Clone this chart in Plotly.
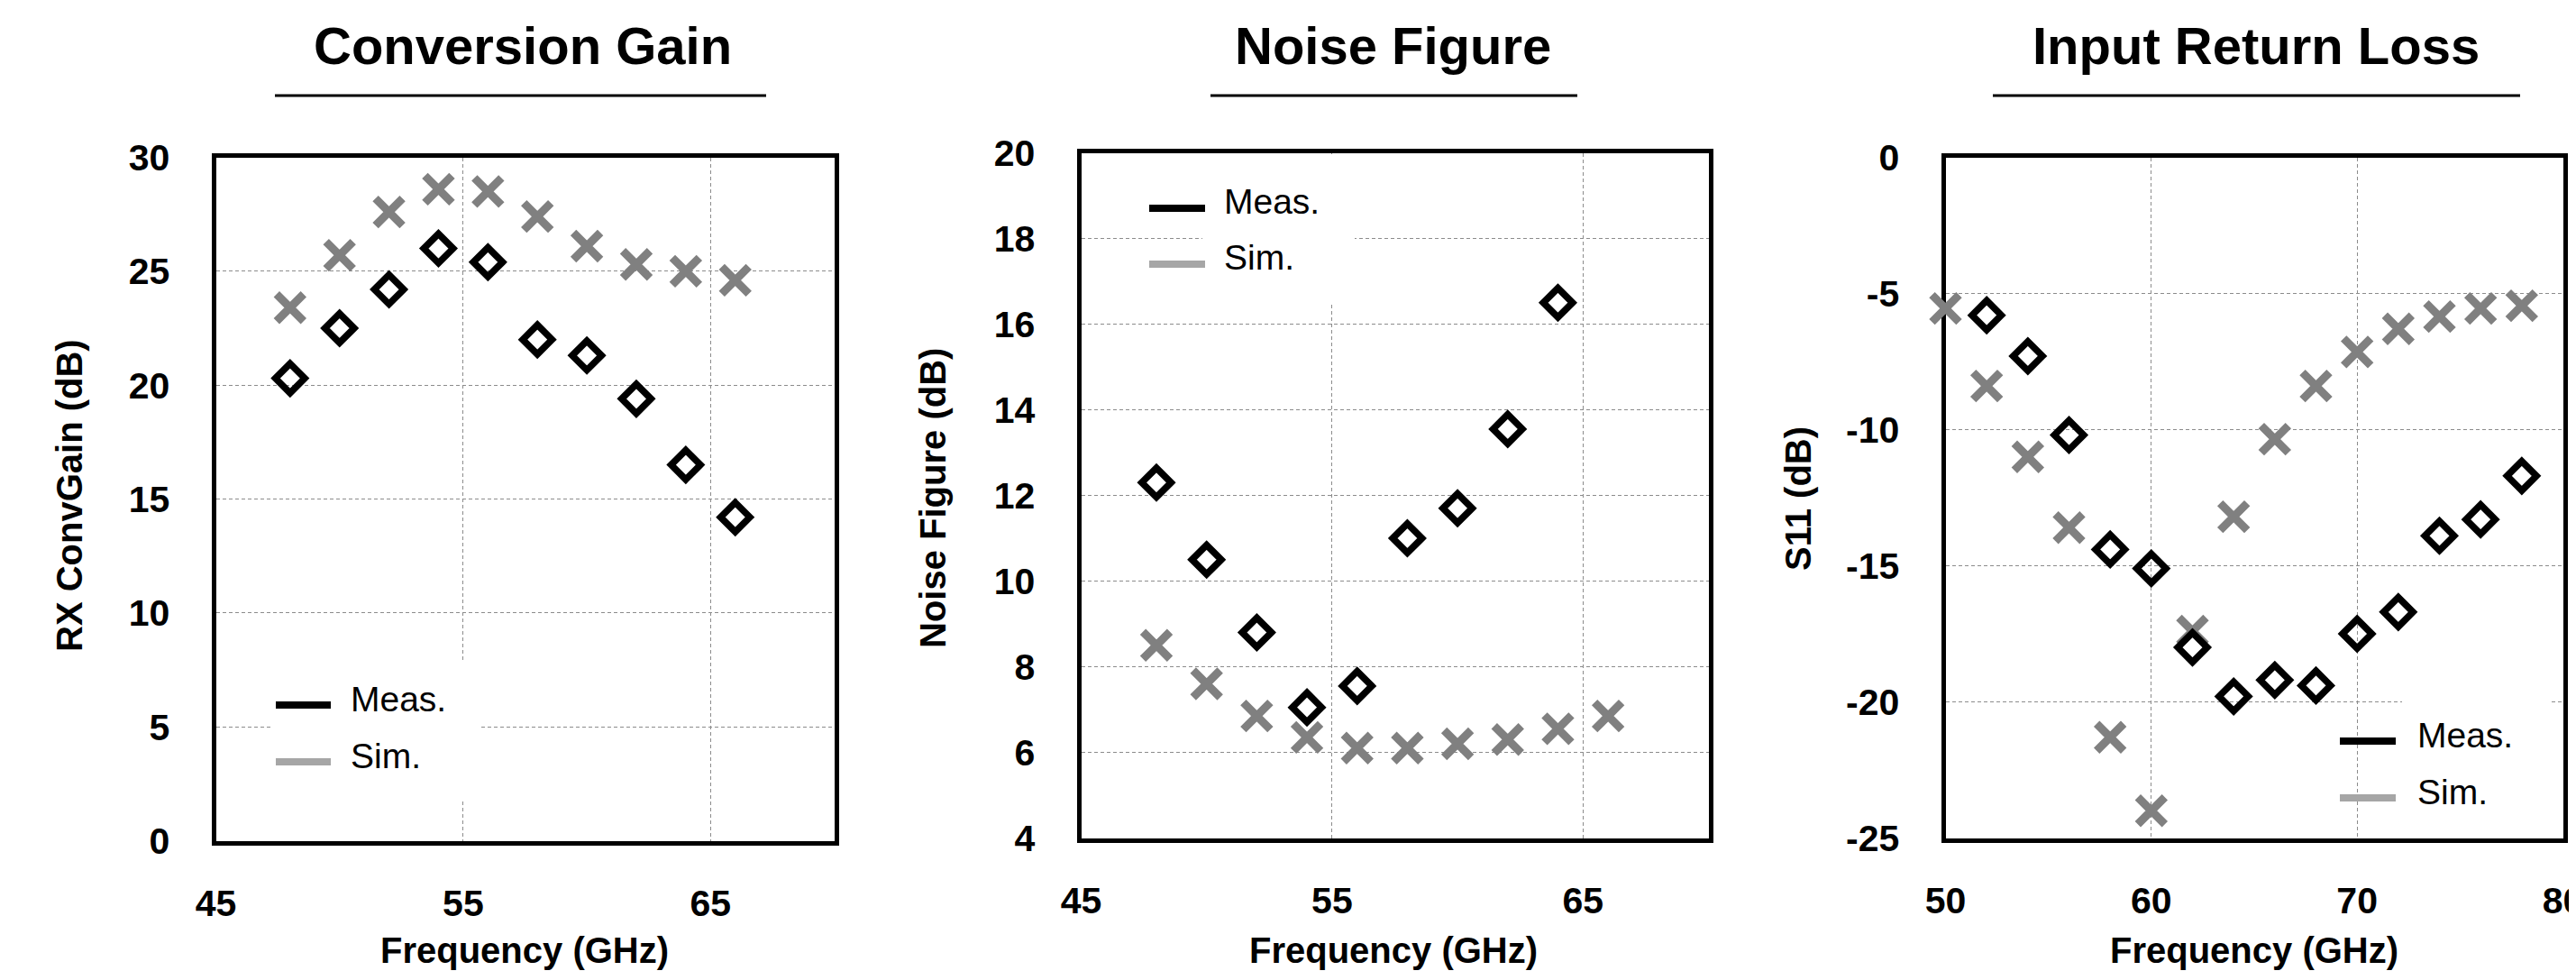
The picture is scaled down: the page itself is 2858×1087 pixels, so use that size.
import plotly.graph_objects as go

# reference canvas (pixels) and the figure size (page body has an 8px margin)
W, H = 2858, 1087
OFF = 8
FIG_W, FIG_H = W - OFF, H - 2 * OFF

# ---------------- data ----------------
cg_freq = [48, 50, 52, 54, 56, 58, 60, 62, 64, 66]
cg_meas = [20.3, 22.5, 24.2, 26.0, 25.4, 22.0, 21.3, 19.4, 16.5, 14.2]
cg_sim = [23.4, 25.7, 27.6, 28.6, 28.5, 27.4, 26.1, 25.3, 25.0, 24.6]

nf_freq_meas = [48, 50, 52, 54, 56, 58, 60, 62, 64]
nf_meas = [12.3, 10.5, 8.8, 7.05, 7.55, 11.0, 11.7, 13.55, 16.5]
nf_freq_sim = [48, 50, 52, 54, 56, 58, 60, 62, 64, 66]
nf_sim = [8.5, 7.6, 6.85, 6.35, 6.1, 6.1, 6.2, 6.3, 6.55, 6.85]

s11_freq_meas = [52, 54, 56, 58, 60, 62, 64, 66, 68, 70, 72, 74, 76, 78]
s11_meas = [-5.8, -7.3, -10.2, -14.4, -15.1, -18.0, -19.8, -19.2, -19.4,
            -17.5, -16.7, -13.9, -13.3, -11.7]
s11_freq_sim = [50, 52, 54, 56, 58, 60, 62, 64, 66, 68, 70, 72, 74, 76, 78]
s11_sim = [-5.55, -8.4, -11.0, -13.6, -21.3, -24.0, -17.4, -13.2, -10.35,
           -8.4, -7.15, -6.3, -5.85, -5.55, -5.45]

titles = ["Conversion Gain", "Noise Figure", "Input Return Loss"]
y_titles = ["RX ConvGain (dB)", "Noise Figure (dB)", "S11 (dB)"]
x_title = "Frequency (GHz)"
x_tickvals = [[45, 55, 65], [45, 55, 65], [50, 60, 70, 80]]
x_ticktext = [["45", "55", "65"], ["45", "55", "65"], ["50", "60", "70", "80"]]
y_tickvals = [[0, 5, 10, 15, 20, 25, 30],
              [4, 6, 8, 10, 12, 14, 16, 18, 20],
              [-25, -20, -15, -10, -5, 0]]
y_ticktext = [["0", "5", "10", "15", "20", "25", "30"],
              ["4", "6", "8", "10", "12", "14", "16", "18", "20"],
              ["-25", "-20", "-15", "-10", "-5", "0"]]
x_ranges = [[45, 70], [45, 70], [50, 80]]
y_ranges = [[0, 30], [4, 20], [-25, 0]]
legend_labels = ["Meas.", "Sim."]

# ---------------- style ----------------
FONT = "Liberation Sans, Arial, sans-serif"
MEAS_C = "#000000"
SIM_C = "#808080"
SIM_LEG_C = "#a6a6a6"
GRID_C = "#8c8c8c"

# panel frames in reference pixels (border centre lines): left, right, top, bottom
frames = [(237, 928, 172, 935), (1197, 1898, 167, 932), (2156, 2846, 172, 932)]


def pxx(x):
    return (x - OFF) / FIG_W


def pxy(y):
    return 1 - (y - OFF) / FIG_H


fig = go.Figure()
series = [
    (cg_freq, cg_meas, cg_freq, cg_sim),
    (nf_freq_meas, nf_meas, nf_freq_sim, nf_sim),
    (s11_freq_meas, s11_meas, s11_freq_sim, s11_sim),
]

for i, (fm, vm, fs, vs) in enumerate(series):
    xa = "x" if i == 0 else f"x{i+1}"
    ya = "y" if i == 0 else f"y{i+1}"
    fig.add_trace(go.Scatter(
        x=fs, y=vs, mode="markers", name="Sim.", xaxis=xa, yaxis=ya,
        showlegend=False, cliponaxis=False,
        marker=dict(symbol="x-thin", size=30, color=SIM_C,
                    line=dict(color=SIM_C, width=9)),
    ))
    fig.add_trace(go.Scatter(
        x=fm, y=vm, mode="markers", name="Meas.", xaxis=xa, yaxis=ya,
        showlegend=False, cliponaxis=False,
        marker=dict(symbol="diamond-open", size=25, color=MEAS_C,
                    line=dict(color=MEAS_C, width=7.5)),
    ))

layout = dict(
    width=FIG_W, height=FIG_H,
    margin=dict(l=0, r=0, t=0, b=0, autoexpand=False),
    paper_bgcolor="white", plot_bgcolor="white",
    showlegend=False,
)

shapes = []
annotations = []

for i, (L, R, T, B) in enumerate(frames):
    sfx = "" if i == 0 else str(i + 1)
    lw = 5
    dom_x = [pxx(L + lw / 2), pxx(R - lw / 2)]
    dom_y = [pxy(B - lw / 2), pxy(T + lw / 2)]
    layout["xaxis" + sfx] = dict(
        domain=dom_x, range=x_ranges[i], automargin=False,
        tickmode="array", tickvals=x_tickvals[i], ticktext=x_ticktext[i],
        anchor="y" + sfx,
        showgrid=True, gridcolor=GRID_C, gridwidth=1.3, griddash="4px,3px",
        zeroline=False, showline=True, mirror=True, linecolor="black",
        linewidth=lw, ticks="", layer="below traces",
        ticklabelstandoff=29, ticklabeloverflow="allow",
        tickfont=dict(family=FONT, size=41, color="black", weight="bold"),
    )
    layout["yaxis" + sfx] = dict(
        domain=dom_y, range=y_ranges[i], automargin=False,
        tickmode="array", tickvals=y_tickvals[i], ticktext=y_ticktext[i],
        anchor="x" + sfx,
        showgrid=True, gridcolor=GRID_C, gridwidth=1.3, griddash="4px,3px",
        zeroline=False, showline=True, mirror=True, linecolor="black",
        linewidth=lw, ticks="", layer="below traces",
        ticklabelstandoff=38,
        tickfont=dict(family=FONT, size=41, color="black", weight="bold"),
    )

# titles + underlines
title_cx = [580, 1546, 2503]
underline = [(305, 850), (1343, 1750), (2211, 2796)]
for i in range(3):
    annotations.append(dict(
        text=titles[i], x=pxx(title_cx[i]), y=pxy(51), xref="paper", yref="paper",
        xanchor="center", yanchor="middle", showarrow=False,
        font=dict(family=FONT, size=58, color="black", weight="bold"),
    ))
    shapes.append(dict(
        type="line", xref="paper", yref="paper",
        x0=pxx(underline[i][0]), x1=pxx(underline[i][1]), y0=pxy(106), y1=pxy(106),
        line=dict(color="black", width=3),
    ))

# axis titles
xt_cx = [582, 1546, 2501]
yt_cx = [77, 1035, 1995]
yt_cy = [550, 553, 553]
for i in range(3):
    annotations.append(dict(
        text=x_title, x=pxx(xt_cx[i]), y=pxy(1054), xref="paper", yref="paper",
        xanchor="center", yanchor="middle", showarrow=False,
        font=dict(family=FONT, size=40, color="black", weight="bold"),
    ))
    annotations.append(dict(
        text=y_titles[i], x=pxx(yt_cx[i]), y=pxy(yt_cy[i]), xref="paper", yref="paper",
        xanchor="center", yanchor="middle", showarrow=False, textangle=-90,
        font=dict(family=FONT, size=40, color="black", weight="bold"),
    ))

# white gaps in the grid behind the legend text
gaps = [(303, 533, 733, 889), (1334, 1503, 171, 337), (2665, 2831, 760, 905)]
for (x0, x1, y0, y1) in gaps:
    shapes.append(dict(
        type="rect", xref="paper", yref="paper",
        x0=pxx(x0), x1=pxx(x1), y0=pxy(y1), y1=pxy(y0),
        fillcolor="white", line=dict(width=0), layer="above",
    ))

# legends (line keys + labels)
leg = [
    # line x0, x1, meas y, sim y, text x
    (306, 367, 782, 845, 387),
    (1275, 1337, 231, 293, 1356),
    (2596, 2658, 822, 885, 2680),
]
for (x0, x1, ym, ys, tx) in leg:
    for lbl, yy, col in ((legend_labels[0], ym, MEAS_C), (legend_labels[1], ys, SIM_LEG_C)):
        shapes.append(dict(
            type="line", xref="paper", yref="paper",
            x0=pxx(x0), x1=pxx(x1), y0=pxy(yy), y1=pxy(yy),
            line=dict(color=col, width=8), layer="above",
        ))
        annotations.append(dict(
            text=lbl, x=pxx(tx), y=pxy(yy - 7), xref="paper", yref="paper",
            xanchor="left", yanchor="middle", showarrow=False,
            font=dict(family=FONT, size=39, color="black"),
        ))

layout["shapes"] = shapes
layout["annotations"] = annotations
fig.update_layout(**layout)

fig.write_html("out.html", config={"displayModeBar": False})
